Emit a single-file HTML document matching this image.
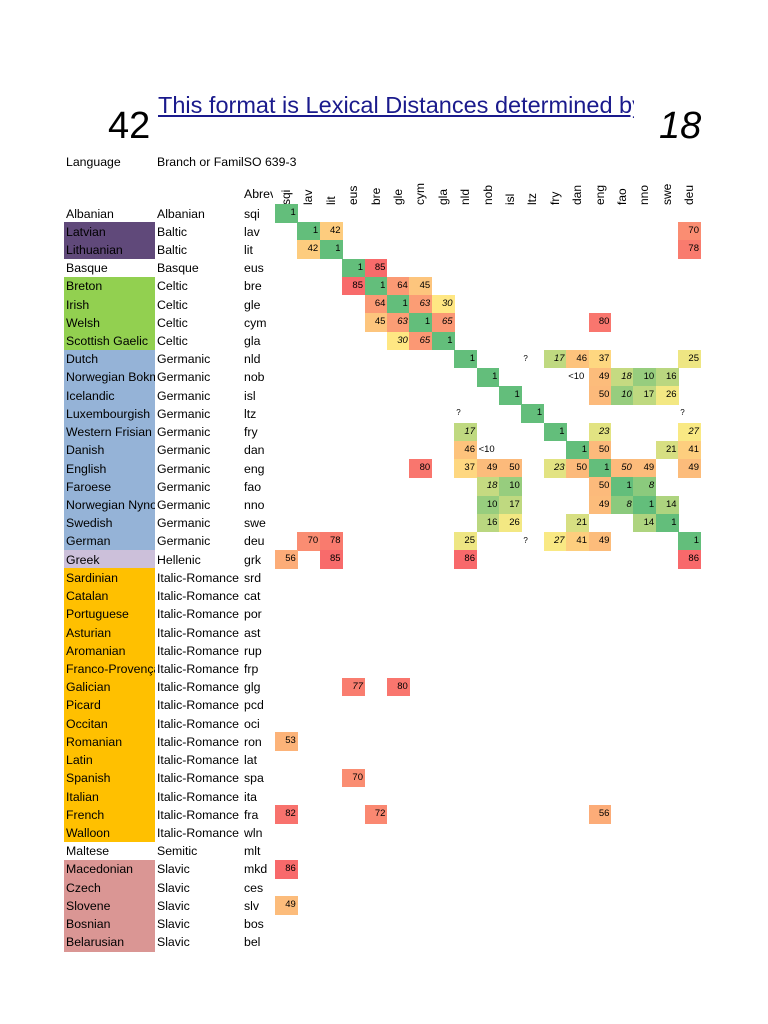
<!DOCTYPE html>
<html><head><meta charset="utf-8">
<style>
body{margin:0;width:768px;height:1024px;background:#fff;position:relative;overflow:hidden;font-family:"Liberation Sans",sans-serif;color:#000}
.a{position:absolute;white-space:nowrap}
.t{font-size:12.3px;line-height:18px}
.c{position:absolute;font-size:9.5px;text-align:right;box-sizing:border-box;padding-right:2px;line-height:18px}
.h{position:absolute;font-size:12px;transform:rotate(-90deg);transform-origin:left top;white-space:nowrap}
</style></head><body>
<div class="a" style="left:108px;top:106px;font-size:38px;line-height:40px">42</div>
<div class="a" style="left:158px;top:92px;font-size:23.5px;color:#1a1a8c;text-decoration:underline;width:476px;overflow:hidden">This format is Lexical Distances determined by</div>
<div class="a" style="left:659px;top:106px;font-size:38px;line-height:40px;font-style:italic">18</div>
<div class="a t" style="left:66px;top:153px">Language</div>
<div class="a t" style="left:157px;top:153px">Branch or FamilSO 639-3</div>
<div class="a t" style="left:244px;top:185px;width:29px;overflow:hidden">Abrev</div>
<div id="g"></div>
<script>
var g=document.getElementById('g'),H='';
var rows=[["Albanian","Albanian","sqi",""],["Latvian","Baltic","lav","#60497a"],["Lithuanian","Baltic","lit","#60497a"],["Basque","Basque","eus",""],["Breton","Celtic","bre","#92d050"],["Irish","Celtic","gle","#92d050"],["Welsh","Celtic","cym","#92d050"],["Scottish Gaelic","Celtic","gla","#92d050"],["Dutch","Germanic","nld","#95b3d7"],["Norwegian Bokmål","Germanic","nob","#95b3d7"],["Icelandic","Germanic","isl","#95b3d7"],["Luxembourgish","Germanic","ltz","#95b3d7"],["Western Frisian","Germanic","fry","#95b3d7"],["Danish","Germanic","dan","#95b3d7"],["English","Germanic","eng","#95b3d7"],["Faroese","Germanic","fao","#95b3d7"],["Norwegian Nynorsk","Germanic","nno","#95b3d7"],["Swedish","Germanic","swe","#95b3d7"],["German","Germanic","deu","#95b3d7"],["Greek","Hellenic","grk","#ccc0da"]];
var rom=[["Sardinian","srd"],["Catalan","cat"],["Portuguese","por"],["Asturian","ast"],["Aromanian","rup"],["Franco-Provençal","frp"],["Galician","glg"],["Picard","pcd"],["Occitan","oci"],["Romanian","ron"],["Latin","lat"],["Spanish","spa"],["Italian","ita"],["French","fra"],["Walloon","wln"]];
rom.forEach(function(r){rows.push([r[0],"Italic-Romance",r[1],"#ffc000"])});
rows.push(["Maltese","Semitic","mlt",""]);
[["Macedonian","mkd"],["Czech","ces"],["Slovene","slv"],["Bosnian","bos"],["Belarusian","bel"]].forEach(function(r){rows.push([r[0],"Slavic",r[1],"#da9694"])});
var cols="sqi lav lit eus bre gle cym gla nld nob isl ltz fry dan eng fao nno swe deu".split(" ");
var X0=275,CW=22.4,Y0=204,RH=18.22;
cols.forEach(function(c,i){H+='<div class="h" style="left:'+(X0+i*CW+4)+'px;top:'+(Y0+1)+'px">'+c+'</div>'});
rows.forEach(function(r,i){var y=Y0+i*RH;
 if(r[3])H+='<div class="a" style="left:64px;top:'+y+'px;width:91px;height:'+(RH+0.5)+'px;background:'+r[3]+'"></div>';
 H+='<div class="a t" style="left:66px;top:'+(y+0.5)+'px;width:89px;overflow:hidden">'+r[0]+'</div>';
 H+='<div class="a t" style="left:157px;top:'+(y+0.5)+'px;width:87px;overflow:hidden">'+r[1]+'</div>';
 H+='<div class="a t" style="left:244px;top:'+(y+0.5)+'px">'+r[2]+'</div>';});
var D={0:[[0,1]],1:[[1,1],[2,42],[18,70]],2:[[1,42],[2,1],[18,78]],3:[[3,1],[4,85]],4:[[3,85],[4,1],[5,64],[6,45]],5:[[4,64],[5,1],[6,'63i'],[7,'30i']],6:[[4,45],[5,'63i'],[6,1],[7,'65i'],[14,80]],7:[[5,'30i'],[6,'65i'],[7,1]],
8:[[8,1],[11,'?'],[12,'17i'],[13,46],[14,37],[18,25]],9:[[9,1],[13,'<10'],[14,49],[15,'18i'],[16,10],[17,16]],10:[[10,1],[14,50],[15,'10i'],[16,17],[17,26]],11:[[8,'?'],[11,1],[18,'?']],12:[[8,'17i'],[12,1],[14,'23i'],[18,'27i']],
13:[[8,46],[9,'<10'],[13,1],[14,50],[17,21],[18,41]],14:[[6,80],[8,37],[9,49],[10,50],[12,'23i'],[13,50],[14,1],[15,'50i'],[16,49],[18,49]],15:[[9,'18i'],[10,10],[14,50],[15,1],[16,'8i']],16:[[9,10],[10,17],[14,49],[15,'8i'],[16,1],[17,14]],17:[[9,16],[10,26],[13,21],[16,14],[17,1]],
18:[[1,70],[2,78],[8,25],[11,'?'],[12,'27i'],[13,41],[14,49],[18,1]],19:[[0,56],[2,85],[8,86],[18,86]],26:[[3,'77i'],[5,80]],29:[[0,53]],31:[[3,70]],33:[[0,82],[4,72],[14,56]],36:[[0,86]],38:[[0,49]]};
function mix(a,b,t){return 'rgb('+a.map(function(v,k){return Math.round(v+(b[k]-v)*t)}).join(',')+')'}
function col(v){var G=[99,190,123],Y=[255,235,132],R=[248,105,107],M=28;
 if(v<=M)return mix(G,Y,(v-1)/(M-1));return mix(Y,R,Math.min(1,(v-M)/(86-M)));}
for(var r in D){D[r].forEach(function(e){var c=e[0],v=e[1],x=X0+c*CW,y=Y0+r*RH;
 if(v==='?'||v==='<10'){H+='<div class="c" style="left:'+(x+2)+'px;top:'+y+'px;text-align:left;font-size:'+(v==='?'?8:9.5)+'px">'+v+'</div>';return;}
 var s=String(v),it=s.indexOf('i')>0,n=parseInt(s);
 H+='<div class="c" style="left:'+x+'px;top:'+y+'px;width:'+(CW+0.4)+'px;height:'+(RH+0.4)+'px;background:'+col(n)+';'+(it?'font-style:italic;':'')+'">'+n+'</div>';});}
g.innerHTML=H;
</script>
</body></html>
